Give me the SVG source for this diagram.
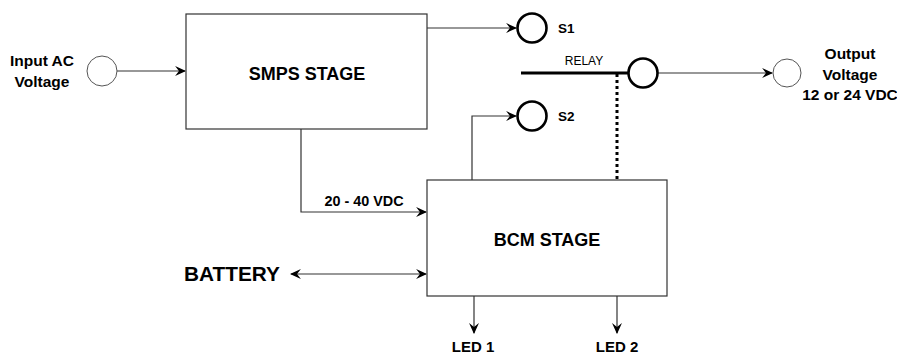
<svg xmlns="http://www.w3.org/2000/svg" width="897" height="352" viewBox="0 0 897 352">
<defs>
<marker id="ah" viewBox="0 0 10 10" refX="9" refY="5" markerWidth="11" markerHeight="11" markerUnits="userSpaceOnUse" orient="auto-start-reverse">
<path d="M0,0.5 L10,5 L0,9.5 L3.5,5 z" fill="#000"/>
</marker>
</defs>
<style>
.box{fill:#fff;stroke:#333;stroke-width:1.2}
.ln{fill:none;stroke:#333;stroke-width:1.2}
.thick{fill:none;stroke:#000;stroke-width:2.8}
.tc{fill:#fff;stroke:#000;stroke-width:2.6}
.oc{fill:#fff;stroke:#555;stroke-width:1}
.t{font-family:"Liberation Sans",Arial,sans-serif;font-weight:bold;fill:#000}
</style>
<rect width="897" height="352" fill="#fff"/>
<g id="connectors">
<line class="ln" x1="117" y1="71" x2="185" y2="71" marker-end="url(#ah)"/>
<line class="ln" x1="427" y1="28" x2="516" y2="28" marker-end="url(#ah)"/>
<polyline class="ln" points="472,180 472,116 516,116" marker-end="url(#ah)"/>
<line class="thick" x1="521" y1="73" x2="628" y2="73"/>
<line x1="617" y1="74" x2="617" y2="180" stroke="#000" stroke-width="3" stroke-dasharray="3,3"/>
<line class="ln" x1="658" y1="73" x2="772" y2="73" marker-end="url(#ah)"/>
<polyline class="ln" points="301,129 301,212 426,212" marker-end="url(#ah)"/>
<line class="ln" x1="291" y1="274" x2="426" y2="274" marker-start="url(#ah)" marker-end="url(#ah)"/>
<line class="ln" x1="474" y1="296" x2="474" y2="333" marker-end="url(#ah)"/>
<line class="ln" x1="617" y1="296" x2="617" y2="333" marker-end="url(#ah)"/>
</g>
<g id="input">
<circle class="oc" cx="102" cy="71" r="15"/>
<text class="t" font-size="15.5" text-anchor="middle" x="42" y="66">Input AC</text>
<text class="t" font-size="15.5" text-anchor="middle" x="42" y="87">Voltage</text>
</g>
<g id="smps">
<rect class="box" x="186" y="14" width="241" height="115"/>
<text class="t" font-size="18" text-anchor="middle" x="307" y="80">SMPS STAGE</text>
</g>
<g id="s1">
<circle class="tc" cx="532" cy="28" r="14.5"/>
<text class="t" font-size="13.5" x="558" y="33">S1</text>
</g>
<g id="s2">
<circle class="tc" cx="532" cy="116" r="14.5"/>
<text class="t" font-size="13.5" x="558" y="121">S2</text>
</g>
<g id="relay">
<circle class="tc" cx="643" cy="73" r="14.5"/>
<text font-family="Liberation Sans,Arial,sans-serif" font-size="12" text-anchor="middle" x="584" y="65">RELAY</text>
</g>
<g id="output">
<circle class="oc" cx="787" cy="73" r="14"/>
<text class="t" font-size="15.5" text-anchor="middle" x="850" y="59">Output</text>
<text class="t" font-size="15.5" text-anchor="middle" x="850" y="80">Voltage</text>
<text class="t" font-size="15.5" text-anchor="middle" x="850" y="100">12 or 24 VDC</text>
</g>
<g id="bcm">
<rect class="box" x="427" y="180" width="240" height="116"/>
<text class="t" font-size="18" text-anchor="middle" x="547" y="246">BCM STAGE</text>
</g>
<g id="vdc">
<text class="t" font-size="14.4" text-anchor="middle" x="364" y="206">20 - 40 VDC</text>
</g>
<g id="battery">
<text class="t" font-size="20.8" x="184" y="281">BATTERY</text>
</g>
<g id="led1">
<text class="t" font-size="15" text-anchor="middle" x="473" y="352">LED 1</text>
</g>
<g id="led2">
<text class="t" font-size="15" text-anchor="middle" x="617" y="352">LED 2</text>
</g>
</svg>
